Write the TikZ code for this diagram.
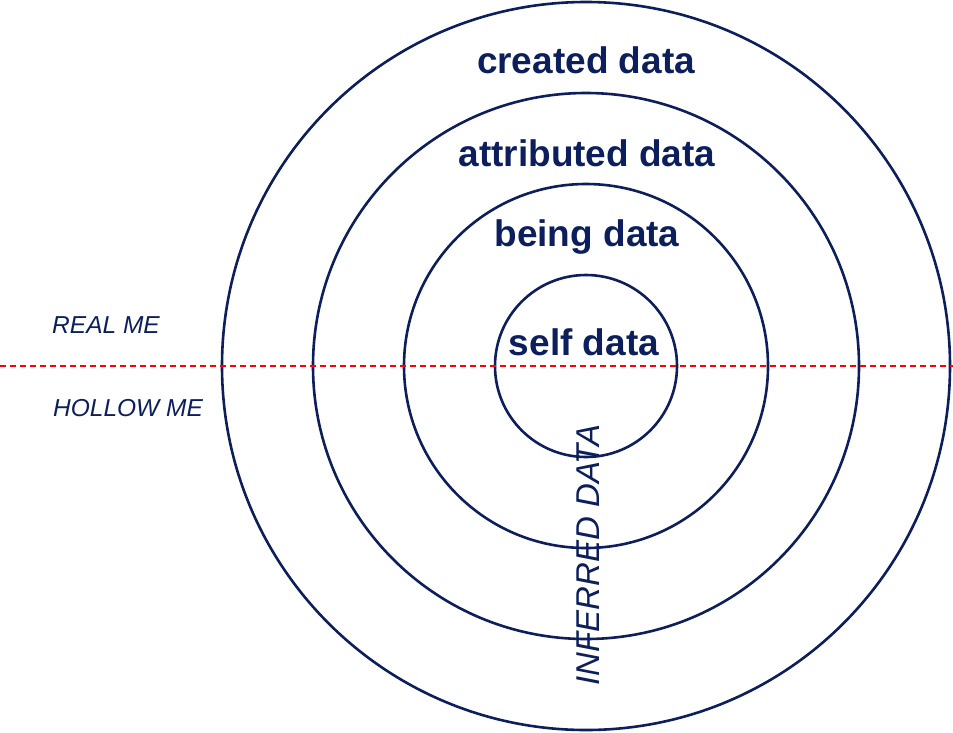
\documentclass[tikz,border=0pt]{standalone}
\usepackage{fontspec}
\setmainfont{Liberation Sans}
\definecolor{navy}{HTML}{0C1F5C}
\begin{document}
\begin{tikzpicture}[x=1pt,y=-1pt,
  ring/.style={draw=navy,line width=2.6pt},
  lbl/.style={text=navy,font=\fontsize{37}{40}\selectfont\bfseries},
  side/.style={text=navy,font=\fontsize{24.5}{28}\selectfont\itshape}]
\useasboundingbox (0,0) rectangle (953,732);
\coordinate (c) at (586,366);
\draw[ring] (c) circle[radius=364];
\draw[ring] (c) circle[radius=273];
\draw[ring] (c) circle[radius=182];
\draw[ring] (c) circle[radius=91];
\coordinate (l) at (0,366);
\coordinate (r) at (953,366);
\draw[red,dash pattern=on 6pt off 4pt,line width=1.3pt] (l) -- (r);
\node[lbl] (cr) at (586,60) {created data};
\node[lbl] (at) at (587,153) {attributed data};
\node[lbl] (be) at (587,237) {being data};
\node[lbl] (se) at (584,342) {self data};
\node[side] (real) at (106,325) {REAL ME};
\node[side] (hol) at (128,408) {HOLLOW ME};
\node[side,font=\fontsize{33}{36}\selectfont\itshape,rotate=90] (inf) at (588,555) {INFERRED DATA};
\end{tikzpicture}
\end{document}
